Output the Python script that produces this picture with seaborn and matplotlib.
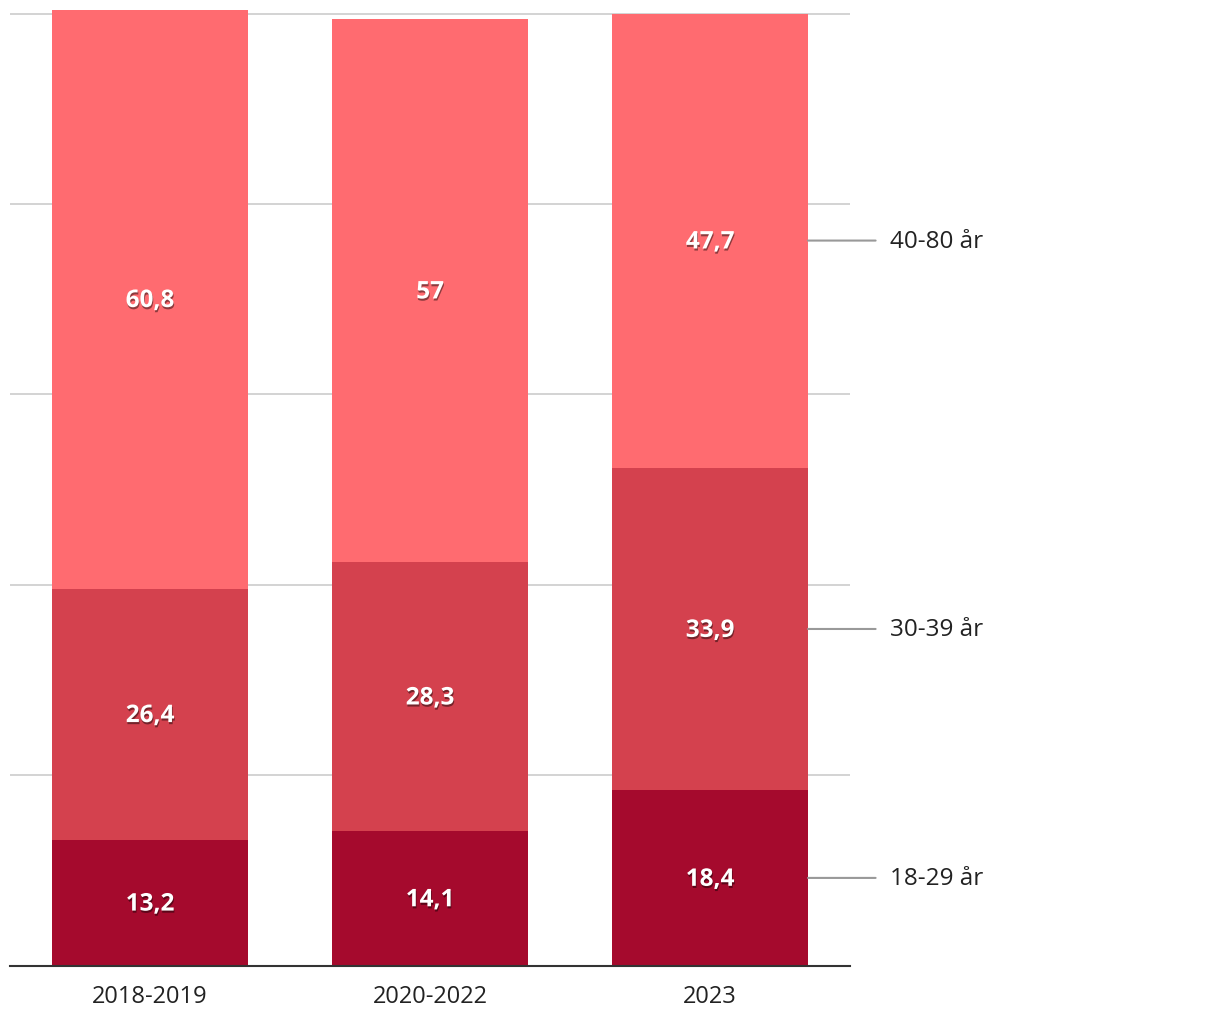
import matplotlib
matplotlib.use("Agg")
import matplotlib.pyplot as plt
import matplotlib.patheffects as pe
import seaborn as sns
import pandas as pd

# data
perioder = ["2018-2019", "2020-2022", "2023"]
aldersgrupper = ["18-29 år", "30-39 år", "40-80 år"]
v_18_29 = [13.2, 14.1, 18.4]
v_30_39 = [26.4, 28.3, 33.9]
v_40_80 = [60.8, 57.0, 47.7]
etiketter_18_29 = ["13,2", "14,1", "18,4"]
etiketter_30_39 = ["26,4", "28,3", "33,9"]
etiketter_40_80 = ["60,8", "57", "47,7"]
farger = ["#a50a2d", "#d4414e", "#ff6b70"]

sns.set_style("white")
plt.rcParams["font.family"] = ["Open Sans", "DejaVu Sans"]

fig = plt.figure(figsize=(12.2, 10.2), dpi=100)
ax = fig.add_axes([10 / 1220, 53.5 / 1020, 840 / 1220, 961.5 / 1020])

serier = [v_18_29, v_30_39, v_40_80]
etiketter = [etiketter_18_29, etiketter_30_39, etiketter_40_80]

# gridlinjer bak stolpene
for g in [20, 40, 60, 80, 100]:
    ax.axhline(g, color="#cccccc", lw=1.2, zorder=0)

bunn = [0.0, 0.0, 0.0]
for serie, farge, lab in zip(serier, farger, etiketter):
    df = pd.DataFrame({"periode": perioder, "verdi": serie})
    sns.barplot(data=df, x="periode", y="verdi", color=farge, bottom=bunn,
                width=0.7, ax=ax, saturation=1, linewidth=0, zorder=2)
    for i, (v, t) in enumerate(zip(serie, lab)):
        ax.text(i, bunn[i] + v / 2 - 0.2, t, ha="center", va="center", color="white",
                fontsize=17.5, fontweight="bold", zorder=5,
                path_effects=[pe.SimplePatchShadow(offset=(0.5, -1.5), shadow_rgbFace="black", alpha=0.45),
                              pe.Normal()])
    bunn = [b + v for b, v in zip(bunn, serie)]

# etiketter til høyre for siste stolpe
bunn = 0.0
for serie, navn in zip(serier, aldersgrupper):
    midt = bunn + serie[-1] / 2
    ax.annotate(navn, xy=(2.35, midt), xytext=(890, midt), textcoords=("figure pixels", "data"),
                ha="left", va="center", fontsize=17.5, color="#222222",
                arrowprops=dict(arrowstyle="-", color="#999999", lw=1.5,
                                shrinkA=8, shrinkB=0),
                annotation_clip=False)
    bunn += serie[-1]

ax.set_xlim(-0.5, 2.5)
ax.set_ylim(0, 101)
ax.set_xlabel("")
ax.set_ylabel("")
ax.set_yticks([])
ax.tick_params(axis="x", length=0, labelsize=17, pad=13, labelcolor="#222222")
sns.despine(ax=ax, left=True, right=True, top=True)
ax.spines["bottom"].set_color("#333333")
ax.spines["bottom"].set_linewidth(1.5)
ax.spines["bottom"].set_zorder(6)

fig.savefig("out.png", dpi=100)
